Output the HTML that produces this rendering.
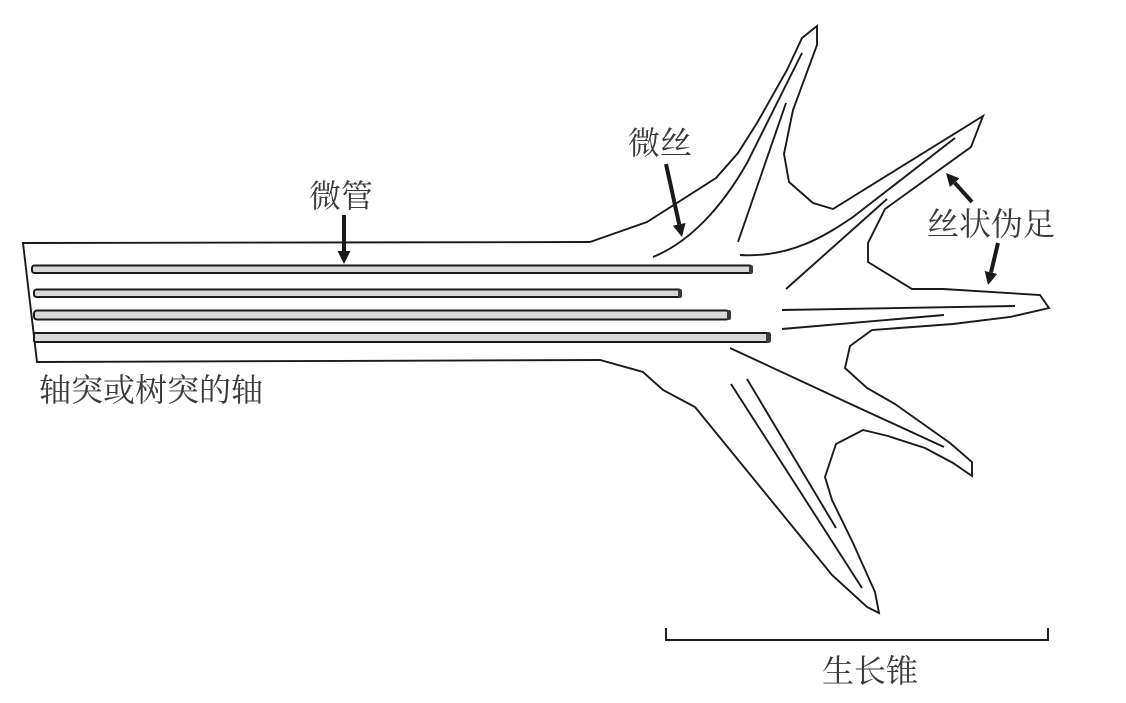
<!DOCTYPE html>
<html lang="zh"><head><meta charset="utf-8"><title>生长锥</title>
<style>html,body{margin:0;padding:0;background:#fff;width:1126px;height:703px;overflow:hidden}svg{display:block}
text{font-family:"Liberation Serif","Noto Serif CJK SC",serif;font-size:32px;fill:#3a3a3a}</style></head>
<body>
<svg width="1126" height="703" viewBox="0 0 1126 703" xmlns="http://www.w3.org/2000/svg">
<defs><marker id="a" markerUnits="userSpaceOnUse" markerWidth="14" markerHeight="14" refX="0" refY="6.500" orient="auto"><path d="M0 0L13 6.500L0 13Z" fill="#1a1a1a"/></marker></defs>
<g fill="none" stroke="#1a1a1a" stroke-width="1.900" stroke-linejoin="miter">
<path d="M590 242L23 243L37 362L600 360L643 372L663 390L695 407L832 575L867 607L879 613L875 592L853 543L832 500L825 477L836 444L863 430L888 436L925 448L953 463L972 476L972 462L950 443L895 404L867 388L845 368L850 346L872 330L953 324L1010 317L1049 308L1040 295L943 289L912 289L868 262L868 243L885 209L971 147L983 116L833 209L813 203L789 182L784 154L793 110L817 45L817 26L802 38L787 70L757 123L738 153L716 178L647 222L590 242"/>
<path d="M653 257C690 242 722 207 747 163L802 53"/>
<path d="M738 242L786 103"/>
<path d="M740 255C790 258 825 236 853 217L955 138"/>
<path d="M786 289L887 199"/>
<path d="M782 310L1015 306"/>
<path d="M782 329L944 315"/>
<path d="M730 348L857 407L944 447"/>
<path d="M731 384L862 588"/>
<path d="M747 379L836 528"/>
<path d="M666 628V640H1048V628"/>
</g>
<g fill="#d9d9d9" stroke="#1a1a1a" stroke-width="2">
<rect x="32" y="265.500" width="720" height="7.500" rx="2.500"/>
<rect x="34" y="289.500" width="647" height="7.500" rx="2.500"/>
<rect x="34" y="310.500" width="695" height="9" rx="3"/>
<rect x="34" y="333" width="735" height="9" rx="1.500"/>
</g>
<g fill="#3a3a3a" stroke="none">
<rect x="749" y="265" width="4" height="9" rx="2"/><rect x="678" y="289" width="4" height="9" rx="2"/><rect x="727" y="310" width="4" height="10" rx="2"/><rect x="766" y="332" width="5" height="11" rx="2.500"/>
</g>
<g stroke="#1a1a1a" stroke-width="4" fill="none">
<path d="M344 215V251" marker-end="url(#a)"/>
<path d="M666 164L679.200 224.300" marker-end="url(#a)"/>
<path d="M972 202L954.700 182.700" marker-end="url(#a)"/>
<path d="M998 243L991 272.400" marker-end="url(#a)"/>
</g>
<text x="309" y="207">微管</text>
<text x="628" y="154">微丝</text>
<text x="927" y="235">丝状伪足</text>
<text x="39" y="401">轴突或树突的轴</text>
<text x="822" y="682">生长锥</text>
</svg>
</body></html>
